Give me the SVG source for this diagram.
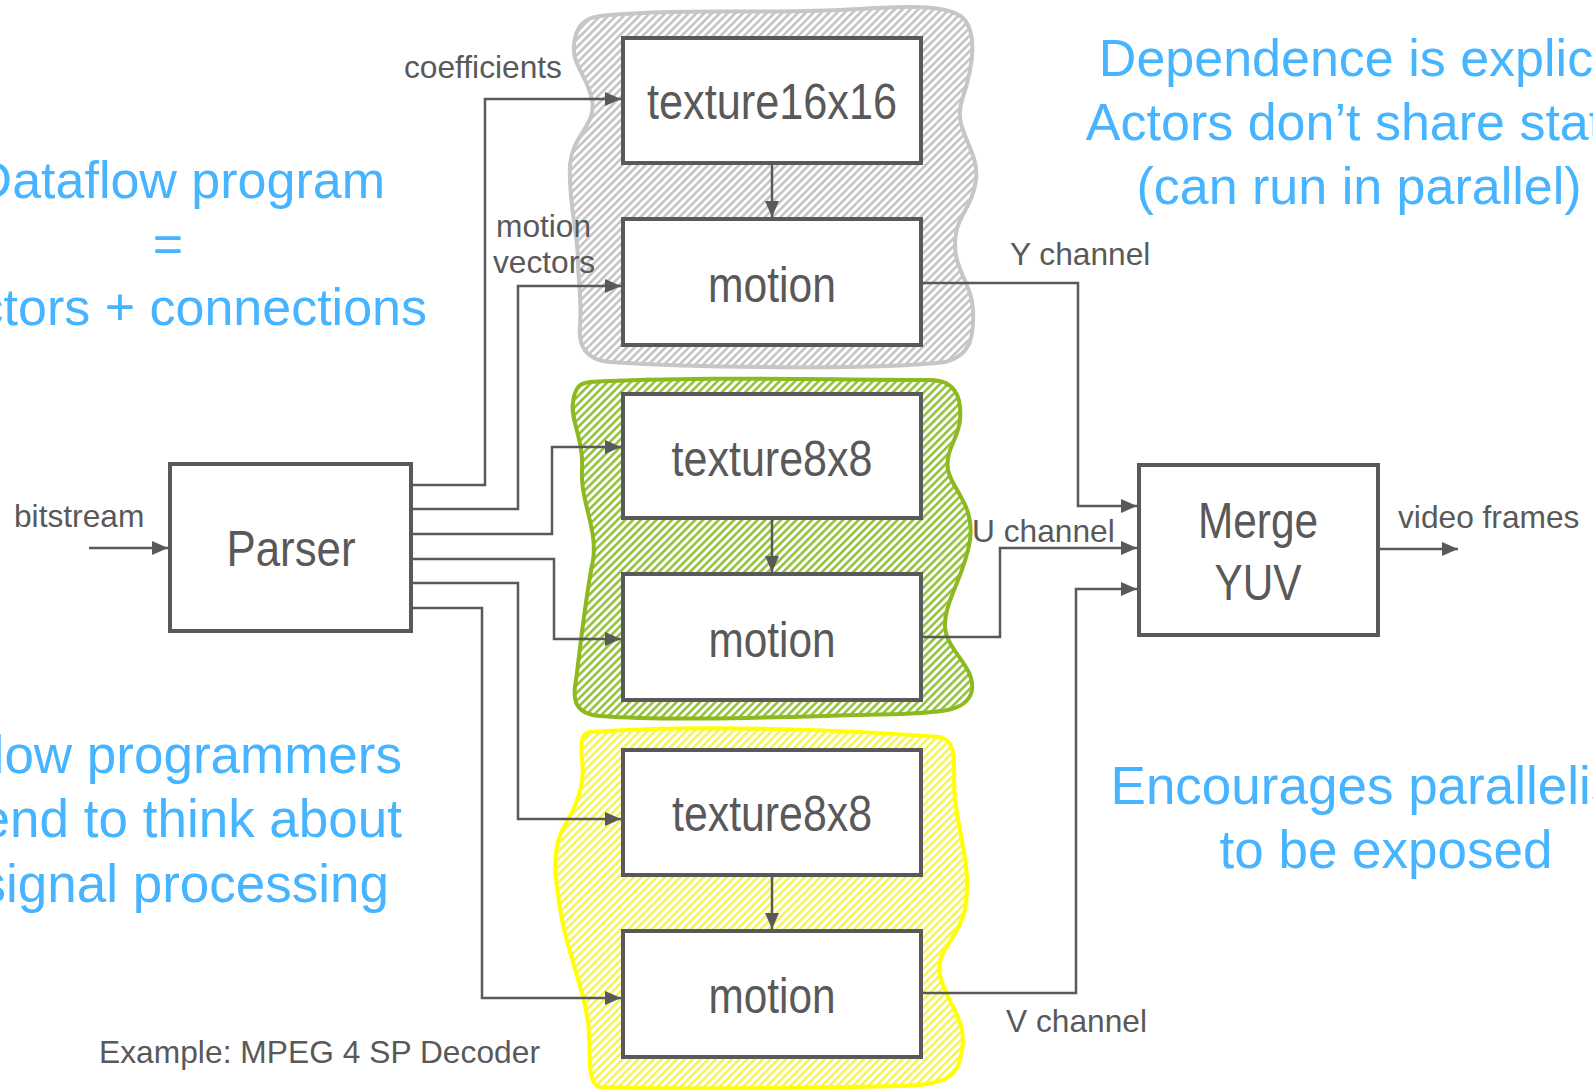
<svg xmlns="http://www.w3.org/2000/svg" width="1593" height="1090" viewBox="0 0 1593 1090">
<style>
.box{fill:#fff;stroke:#595959;stroke-width:4}
.nt{font-family:"Liberation Sans",Arial,sans-serif;font-size:50px;fill:#595959;text-anchor:middle}
.lb{font-family:"Liberation Sans",Arial,sans-serif;font-size:31.7px;fill:#595959}
.bl{font-family:"Liberation Sans",Arial,sans-serif;font-size:52px;fill:#46b4ff}
.cn{fill:none;stroke:#595959;stroke-width:2.5;marker-end:url(#ah)}
</style>
<defs>
<marker id="ah" markerUnits="userSpaceOnUse" markerWidth="16" markerHeight="14" refX="16" refY="7" orient="auto">
<path d="M0,0 L16,7 L0,14 Z" fill="#595959"/>
</marker>
<pattern id="hg" width="5.5" height="5.5" patternUnits="userSpaceOnUse" patternTransform="rotate(45)">
<rect width="5.5" height="5.5" fill="#fff"/><rect width="2.6" height="5.5" fill="#c4c4c4"/>
</pattern>
<pattern id="hgr" width="5.5" height="5.5" patternUnits="userSpaceOnUse" patternTransform="rotate(45)">
<rect width="5.5" height="5.5" fill="#fff"/><rect width="2.6" height="5.5" fill="#93c23a"/>
</pattern>
<pattern id="hy" width="5.5" height="5.5" patternUnits="userSpaceOnUse" patternTransform="rotate(45)">
<rect width="5.5" height="5.5" fill="#fff"/><rect width="2.6" height="5.5" fill="#f4f35a"/>
</pattern>
</defs>
<rect width="1593" height="1090" fill="#fff"/>

<g id="blobs">
<path id="blob-gray" fill="url(#hg)" stroke="#c6c6c6" stroke-width="4" d="M600,16 C680,8 760,14 840,10 C900,7 950,2 965,20 C978,38 972,70 962,100 C952,130 980,150 976,180 C972,210 955,215 955,245 C955,270 972,285 973,310 C974,335 972,355 945,362 C880,370 700,368 610,362 C585,360 578,345 580,325 C582,300 578,280 578,260 C578,235 568,200 570,165 C572,135 597,125 592,100 C587,75 572,65 574,45 C576,25 585,18 600,16 Z"/>
<path id="blob-green" fill="url(#hgr)" stroke="#8cba1e" stroke-width="4" d="M590,382 C700,376 820,380 930,380 C955,380 962,397 960,420 C958,440 945,450 948,470 C952,490 975,505 970,540 C965,575 945,600 945,625 C945,650 975,665 972,690 C968,712 940,712 900,714 C800,716 680,722 600,716 C575,714 572,700 576,680 C580,650 585,600 593,560 C598,530 580,500 582,470 C584,440 570,420 573,402 C575,387 580,383 590,382 Z"/>
<path id="blob-yellow" fill="url(#hy)" stroke="#ffff00" stroke-width="4" d="M590,732 C700,724 850,730 940,737 C960,742 952,770 955,800 C960,840 972,870 965,910 C958,940 935,950 940,975 C945,1000 968,1020 962,1050 C958,1075 950,1085 900,1086 C800,1088 680,1090 600,1087 C588,1085 590,1060 589,1035 C588,1000 570,960 562,920 C555,880 550,850 565,825 C580,800 585,780 582,760 C580,742 582,733 590,732 Z"/>
</g>

<g id="connectors">
<path class="cn" d="M411,485 H485 V99 H621"/>
<path class="cn" d="M411,509 H518 V286 H621"/>
<path class="cn" d="M411,534 H552 V447 H621"/>
<path class="cn" d="M411,559 H554 V639 H621"/>
<path class="cn" d="M411,583 H518 V819 H621"/>
<path class="cn" d="M411,608 H482 V998 H621"/>
<path class="cn" d="M772,163 V217"/>
<path class="cn" d="M772,520 V572"/>
<path class="cn" d="M772,877 V929"/>
<path class="cn" d="M921,283 H1078 V506 H1137"/>
<path class="cn" d="M921,637 H1000 V548 H1137"/>
<path class="cn" d="M921,993 H1076 V589 H1137"/>
<path class="cn" d="M89,548 H168"/>
<path class="cn" d="M1380,549 H1458"/>
</g>

<g id="parser"><rect class="box" x="170" y="464" width="241" height="167"/><text class="nt" x="291" y="566" textLength="129" lengthAdjust="spacingAndGlyphs">Parser</text></g>
<g id="texture16x16"><rect class="box" x="623" y="38" width="298" height="125"/><text class="nt" x="772" y="119" textLength="250" lengthAdjust="spacingAndGlyphs">texture16x16</text></g>
<g id="motion-y"><rect class="box" x="623" y="219" width="298" height="126"/><text class="nt" x="772" y="302" textLength="128" lengthAdjust="spacingAndGlyphs">motion</text></g>
<g id="texture8x8-u"><rect class="box" x="623" y="394" width="298" height="124"/><text class="nt" x="772" y="476" textLength="201" lengthAdjust="spacingAndGlyphs">texture8x8</text></g>
<g id="motion-u"><rect class="box" x="623" y="574" width="298" height="126"/><text class="nt" x="772" y="657" textLength="127" lengthAdjust="spacingAndGlyphs">motion</text></g>
<g id="texture8x8-v"><rect class="box" x="623" y="750" width="298" height="125"/><text class="nt" x="772" y="831" textLength="200" lengthAdjust="spacingAndGlyphs">texture8x8</text></g>
<g id="motion-v"><rect class="box" x="623" y="931" width="298" height="126"/><text class="nt" x="772" y="1013" textLength="127" lengthAdjust="spacingAndGlyphs">motion</text></g>
<g id="merge-yuv"><rect class="box" x="1139" y="465" width="239" height="170"/><text class="nt" x="1258" y="538" textLength="120" lengthAdjust="spacingAndGlyphs">Merge</text><text class="nt" x="1258" y="600" textLength="87" lengthAdjust="spacingAndGlyphs">YUV</text></g>

<g id="labels">
<text class="lb" x="404" y="78">coefficients</text>
<text class="lb" x="496" y="237">motion</text>
<text class="lb" x="493" y="273">vectors</text>
<text class="lb" x="14" y="527">bitstream</text>
<text class="lb" x="1010" y="265">Y channel</text>
<text class="lb" x="972" y="542">U channel</text>
<text class="lb" x="1006" y="1032">V channel</text>
<text class="lb" x="1398" y="528">video frames</text>
<text class="lb" x="99" y="1063" textLength="441">Example: MPEG 4 SP Decoder</text>
</g>

<g id="notes">
<text class="bl" x="385" y="198" text-anchor="end">Dataflow program</text>
<text class="bl" x="168" y="262" text-anchor="middle">=</text>
<text class="bl" x="427" y="325" text-anchor="end">Actors + connections</text>
<text class="bl" x="1359" y="76" text-anchor="middle">Dependence is explicit</text>
<text class="bl" x="1359" y="140" text-anchor="middle">Actors don’t share state</text>
<text class="bl" x="1359" y="204" text-anchor="middle">(can run in parallel)</text>
<text class="bl" x="402" y="773" text-anchor="end" style="font-size:53px">Dataflow programmers</text>
<text class="bl" x="402" y="837" text-anchor="end" style="font-size:53px">tend to think about</text>
<text class="bl" x="389" y="902" text-anchor="end" style="font-size:53px">signal processing</text>
<text class="bl" x="1386" y="804" text-anchor="middle" style="font-size:53px">Encourages parallelism</text>
<text class="bl" x="1386" y="868" text-anchor="middle" style="font-size:53px">to be exposed</text>
</g>
</svg>
